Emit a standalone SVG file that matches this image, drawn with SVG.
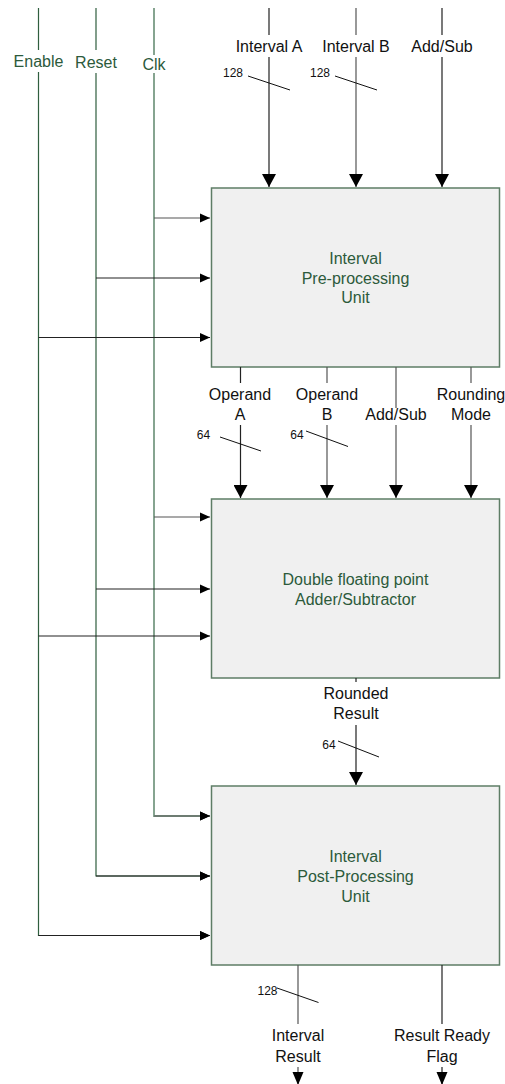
<svg xmlns="http://www.w3.org/2000/svg" width="505" height="1084" viewBox="0 0 505 1084">
  <style>
    .lbl { font-family: "Liberation Sans", Arial, sans-serif; font-size: 16px; fill: #111; text-anchor: middle; }
    .grn { font-family: "Liberation Sans", Arial, sans-serif; font-size: 16px; fill: #2c5a3b; text-anchor: middle; }
    .bus { font-family: "Liberation Sans", Arial, sans-serif; font-size: 12px; fill: #111; text-anchor: middle; }
    .box { fill: #f0f0f0; stroke: #5e7d66; stroke-width: 1.5; }
    .wire { fill: none; stroke: #222; stroke-width: 1.2; }
    .wire2 { fill: none; stroke: #555; stroke-width: 1.2; }
    .ctl { fill: none; stroke: #2f5e3e; stroke-width: 1.2; }
    .clk { fill: none; stroke: #86a490; stroke-width: 2; }
    .slash { fill: none; stroke: #111; stroke-width: 1; }
  </style>
  <defs>
    <marker id="arrDown" markerUnits="userSpaceOnUse" markerWidth="13" markerHeight="14" refX="13" refY="7" orient="auto" viewBox="0 0 13 14">
      <path d="M0,0 L13,7 L0,14 z" fill="#000"/>
    </marker>
    <marker id="arrSide" markerUnits="userSpaceOnUse" markerWidth="10" markerHeight="10" refX="10" refY="5" orient="auto" viewBox="0 0 10 10">
      <path d="M0,0.5 L10,5 L0,9.5 z" fill="#000"/>
    </marker>
    <marker id="arrOut" markerUnits="userSpaceOnUse" markerWidth="13" markerHeight="12" refX="13" refY="6" orient="auto" viewBox="0 0 13 12">
      <path d="M0,0.5 L13,6 L0,11.5 z" fill="#000"/>
    </marker>
  </defs>

  <!-- functional blocks -->
  <g id="pre-processing">
    <rect class="box" x="211.5" y="188" width="288" height="179"/>
    <text class="grn" x="355.5" y="264">Interval</text>
    <text class="grn" x="355.5" y="283.5">Pre-processing</text>
    <text class="grn" x="355.5" y="303">Unit</text>
  </g>
  <g id="adder-subtractor">
    <rect class="box" x="211.5" y="499" width="288" height="179"/>
    <text class="grn" x="355.5" y="584.5">Double floating point</text>
    <text class="grn" x="355.5" y="604.5">Adder/Subtractor</text>
  </g>
  <g id="post-processing">
    <rect class="box" x="211.5" y="786" width="288" height="179"/>
    <text class="grn" x="355.5" y="862">Interval</text>
    <text class="grn" x="355.5" y="882">Post-Processing</text>
    <text class="grn" x="355.5" y="901.5">Unit</text>
  </g>

  <!-- control signals -->
  <g id="control-labels">
    <text class="grn" x="38.5" y="66.5">Enable</text>
    <text class="grn" x="96" y="68">Reset</text>
    <text class="grn" x="154" y="70">Clk</text>
  </g>

  <!-- labels on data paths -->
  <g id="data-labels">
    <text class="lbl" x="269" y="51.5">Interval A</text>
    <text class="lbl" x="356" y="51.5">Interval B</text>
    <text class="lbl" x="442" y="51.5">Add/Sub</text>
    <text class="bus" x="233" y="76.5">128</text>
    <text class="bus" x="320" y="76.5">128</text>

    <text class="lbl" x="240" y="400">Operand</text>
    <text class="lbl" x="240" y="420">A</text>
    <text class="lbl" x="327" y="400">Operand</text>
    <text class="lbl" x="327" y="420">B</text>
    <text class="lbl" x="396" y="420">Add/Sub</text>
    <text class="lbl" x="471" y="400">Rounding</text>
    <text class="lbl" x="471" y="420">Mode</text>
    <text class="bus" x="203.5" y="438.5">64</text>
    <text class="bus" x="297" y="438.5">64</text>

    <text class="lbl" x="356" y="698.5">Rounded</text>
    <text class="lbl" x="356" y="719">Result</text>
    <text class="bus" x="329" y="748.5">64</text>

    <text class="bus" x="267.5" y="994.5">128</text>
    <text class="lbl" x="298" y="1041">Interval</text>
    <text class="lbl" x="298" y="1062">Result</text>
    <text class="lbl" x="442" y="1041">Result Ready</text>
    <text class="lbl" x="442" y="1062">Flag</text>
  </g>

  <g id="connectors">
    <!-- Enable / Reset / Clk rails -->
    <path class="ctl" d="M38.5,8 V50 M38.5,72 V935.5 H210" marker-end="url(#arrSide)"/>
    <path class="ctl" d="M96,8 V50 M96,73 V876 H210" marker-end="url(#arrSide)"/>
    <path class="clk" d="M154,8 V55 M154,73 V816 H210" marker-end="url(#arrSide)"/>
    <path class="wire" d="M38.5,337.5 H210" marker-end="url(#arrSide)"/>
    <path class="wire" d="M96,278 H210" marker-end="url(#arrSide)"/>
    <path class="wire2" d="M154,218 H210" stroke-width="1.6" marker-end="url(#arrSide)"/>
    <path class="wire" d="M38.5,636 H210" marker-end="url(#arrSide)"/>
    <path class="wire" d="M96,589 H210" marker-end="url(#arrSide)"/>
    <path class="wire2" d="M154,517 H210" stroke-width="1.6" marker-end="url(#arrSide)"/>
    <path class="wire" d="M96,876 H210" marker-end="url(#arrSide)"/>
    <path class="wire" d="M38.5,935.5 H210" marker-end="url(#arrSide)"/>
    <path class="wire2" d="M154,816 H210" marker-end="url(#arrSide)"/>

    <!-- inputs of the pre-processing unit -->
    <path class="wire" d="M269,8 V35 M269,57 V187" marker-end="url(#arrDown)"/>
    <path class="wire2" d="M356,8 V35 M356,57 V187" marker-end="url(#arrDown)"/>
    <path class="wire" d="M442,8 V35 M442,57 V187" marker-end="url(#arrDown)"/>
    <path class="slash" d="M248,76 L290,90"/>
    <path class="slash" d="M335,76 L377,90"/>

    <!-- pre-processing to adder/subtractor -->
    <path class="wire" d="M240.5,367 V383 M240.5,425 V498" marker-end="url(#arrDown)"/>
    <path class="wire2" d="M327,367 V383 M327,425 V498" marker-end="url(#arrDown)"/>
    <path class="wire2" d="M396,367 V408 M396,425 V498" marker-end="url(#arrDown)"/>
    <path class="wire2" d="M471,367 V383 M471,425 V498" marker-end="url(#arrDown)"/>
    <path class="slash" d="M220,437 L261,451"/>
    <path class="slash" d="M306,431 L348,446.5"/>

    <!-- adder/subtractor to post-processing -->
    <path class="wire" d="M356,678 V682 M356,725 V785" marker-end="url(#arrDown)"/>
    <path class="slash" d="M338,741 L379,757"/>

    <!-- outputs -->
    <path class="wire2" d="M298,965 V1024 M298,1067 V1085" marker-end="url(#arrOut)"/>
    <path class="wire" d="M442,965 V1024 M442,1067 V1085" marker-end="url(#arrOut)"/>
    <path class="slash" d="M277,988 L318.5,1002.5"/>
  </g>
</svg>
